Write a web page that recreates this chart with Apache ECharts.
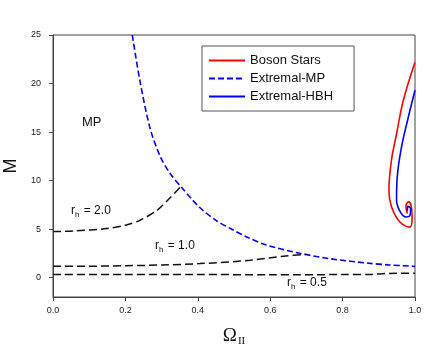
<!DOCTYPE html>
<html>
<head>
<meta charset="utf-8">
<script src="https://cdn.jsdelivr.net/npm/echarts@6/dist/echarts.min.js"></script>
<style>
  html, body { margin: 0; padding: 0; background: #fff; }
  #main { width: 436px; height: 352px; }
</style>
</head>
<body>
<div id="main"></div>
<script>
// values
const xTicks = [0, 0.2, 0.4, 0.6, 0.8, 1.0]
const yTicks = [0, 5, 10, 15, 20, 25]

const mpOmega = [0.219, 0.24, 0.268, 0.296, 0.323, 0.355, 0.383, 0.406, 0.45, 0.498, 0.54, 0.59, 0.682, 0.774, 0.867, 0.93, 1.0]
const mpM = [25, 20.3, 15.4, 12.5, 10.75, 9.3, 8.1, 7.2, 5.9, 4.9, 4.1, 3.35, 2.5, 1.9, 1.5, 1.3, 1.16]

const rh2Omega = [0, 0.056, 0.148, 0.2, 0.24, 0.286, 0.323, 0.351]
const rh2M = [4.75, 4.8, 5.05, 5.4, 5.9, 6.9, 8.2, 9.3]

const rh1Omega = [0, 0.1, 0.2, 0.3, 0.406, 0.544, 0.636, 0.7]
const rh1M = [1.16, 1.17, 1.22, 1.3, 1.44, 1.78, 2.2, 2.4]

const rh05Omega = [0, 0.2, 0.4, 0.6, 0.8, 0.88, 0.92, 1.0]
const rh05M = [0.31, 0.31, 0.31, 0.3, 0.31, 0.33, 0.42, 0.45]

const bsOmega = [1.0, 0.968, 0.949, 0.935, 0.928, 0.935, 0.959, 0.986, 0.992, 0.989, 0.982, 0.975, 0.979]
const bsM = [22.2, 18.3, 14.8, 12.1, 9.0, 7.3, 5.7, 5.2, 6.25, 7.45, 7.8, 7.35, 6.6]

const hbhOmega = [1.0, 0.982, 0.963, 0.951, 0.949, 0.959, 0.975, 0.986, 0.988, 0.980, 0.979]
const hbhM = [19.3, 16.6, 13.5, 10.4, 8.0, 6.8, 6.25, 6.4, 7.1, 7.35, 6.9]

const legendNames = ['Boson Stars', 'Extremal-MP', 'Extremal-HBH']

const pairs = (xs, ys) => xs.map((x, i) => [x, ys[i]])

const myChart = echarts.init(document.getElementById('main'))

const blackDash = { color: '#111', width: 1.5, type: [8, 4] }
const rhRich = {
  r: { font: '12px "Liberation Sans"', fill: '#111' },
  s: { font: '8px "Liberation Sans"', fill: '#111', padding: [7, 1, 0, 0] }
}

const option = {
  animation: false,
  grid: {
    left: 53, right: 21, top: 35, bottom: 55,
    outerBoundsMode: 'none',
    show: true, borderColor: '#444', borderWidth: 1
  },
  legend: {
    data: legendNames,
    orient: 'vertical',
    left: 202,
    top: 46,
    padding: [8, 21, 8, 6],
    itemGap: 5,
    itemWidth: 36,
    itemHeight: 14,
    borderColor: '#555',
    borderWidth: 1,
    itemStyle: { opacity: 0 },
    textStyle: { fontFamily: 'Liberation Sans', fontSize: 13, color: '#111' }
  },
  xAxis: {
    type: 'value',
    min: 0,
    max: 1,
    interval: 0.2,
    splitLine: { show: false },
    axisLine: { onZero: false, lineStyle: { color: '#444' } },
    axisTick: { length: 4, lineStyle: { color: '#444' } },
    axisLabel: {
      margin: 9,
      fontSize: 9,
      fontFamily: 'Liberation Sans',
      color: '#222',
      formatter: v => v.toFixed(1)
    },
    name: '{o|Ω}{s|II}',
    nameLocation: 'middle',
    nameGap: 29,
    nameTextStyle: {
      rich: {
        o: { fontFamily: 'Liberation Serif', fontSize: 19, color: '#111' },
        s: { fontFamily: 'Liberation Serif', fontSize: 11, color: '#111', padding: [10, 0, 0, 1] }
      }
    }
  },
  yAxis: {
    type: 'value',
    min: -2,
    max: 25,
    splitLine: { show: false },
    axisLine: { onZero: false, lineStyle: { color: '#444' } },
    axisTick: { length: 4, customValues: yTicks, lineStyle: { color: '#444' } },
    axisLabel: {
      margin: 12,
      fontSize: 9,
      fontFamily: 'Liberation Sans',
      color: '#222',
      customValues: yTicks
    },
    name: 'M',
    nameLocation: 'middle',
    nameRotate: 90,
    nameGap: 25,
    nameTextStyle: { fontFamily: 'Liberation Sans', fontSize: 18, color: '#111' }
  },
  series: [
    {
      name: 'Boson Stars', type: 'line', symbol: 'none', smooth: 0.4,
      lineStyle: { color: '#ff0000', width: 1.6 }, itemStyle: { color: '#ff0000' },
      data: pairs(bsOmega, bsM)
    },
    {
      name: 'Extremal-MP', type: 'line', symbol: 'none', smooth: 0.3,
      lineStyle: { color: '#0000ff', width: 1.6, type: [6, 3] }, itemStyle: { color: '#0000ff' },
      data: pairs(mpOmega, mpM)
    },
    {
      name: 'Extremal-HBH', type: 'line', symbol: 'none', smooth: 0.4,
      lineStyle: { color: '#0000ff', width: 1.6 }, itemStyle: { color: '#0000ff' },
      data: pairs(hbhOmega, hbhM)
    },
    { name: 'rh2', type: 'line', symbol: 'none', smooth: 0.3, lineStyle: blackDash, data: pairs(rh2Omega, rh2M) },
    { name: 'rh1', type: 'line', symbol: 'none', smooth: 0.3, lineStyle: blackDash, data: pairs(rh1Omega, rh1M) },
    { name: 'rh05', type: 'line', symbol: 'none', smooth: 0.3, lineStyle: blackDash, data: pairs(rh05Omega, rh05M) }
  ],
  graphic: [
    { type: 'text', left: 82, top: 116, style: { text: 'MP', font: '13px "Liberation Sans"', fill: '#111' } },
    { type: 'text', left: 71, top: 205, style: { text: '{r|r}{s|h}{r| = 2.0}', rich: rhRich } },
    { type: 'text', left: 155, top: 240, style: { text: '{r|r}{s|h}{r| = 1.0}', rich: rhRich } },
    { type: 'text', left: 287, top: 277, style: { text: '{r|r}{s|h}{r| = 0.5}', rich: rhRich } }
  ]
}

myChart.setOption(option)
</script>
</body>
</html>
